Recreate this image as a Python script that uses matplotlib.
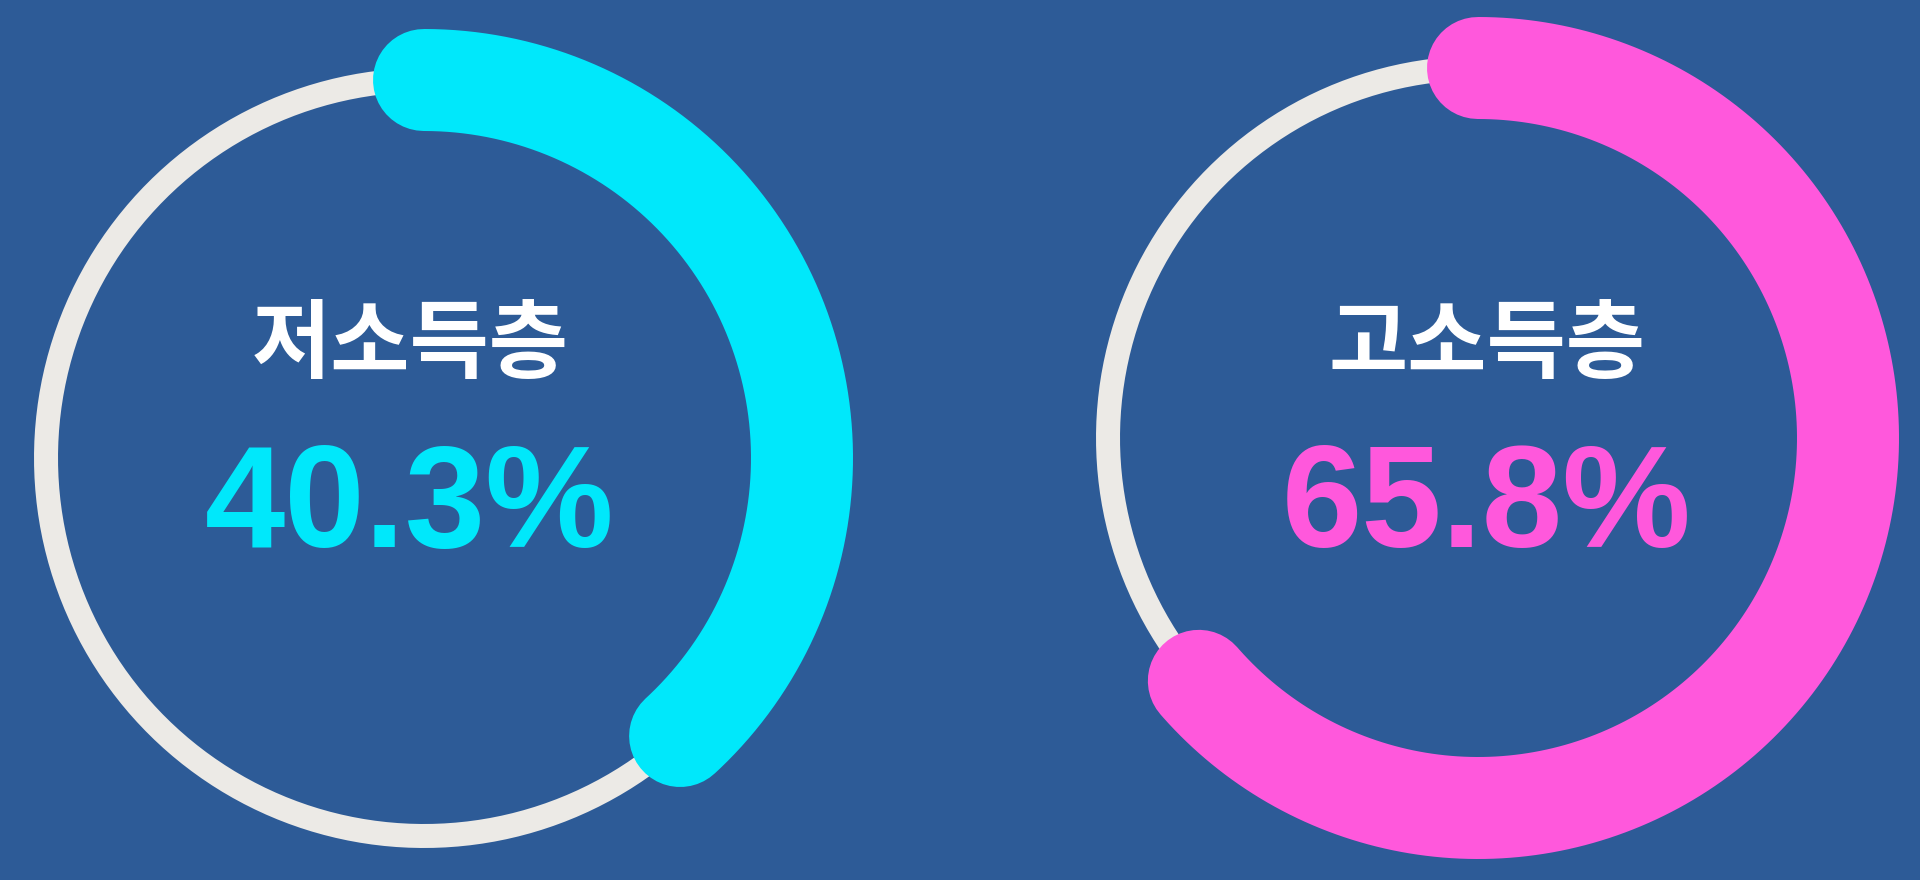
import numpy as np
import matplotlib
matplotlib.use("Agg")
import matplotlib.pyplot as plt

# ---- data ----
labels = ["저소득층", "고소득층"]
values = [40.3, 65.8]
value_texts = ["40.3%", "65.8%"]
arc_colors = ["#00E8FB", "#FF58DC"]

# ---- layout / style ----
BG = "#2D5B97"
RING = "#ECEAE6"
centers = [(424, 458), (1478, 438)]
radii = [378, 370]
text_x = [410, 1487]
DPI = 100
px2pt = 72.0 / DPI
ARC_W = 102  # px
RING_W = 24  # px
CJK = ["Noto Sans CJK KR", "DejaVu Sans"]
NUM = ["Liberation Sans", "DejaVu Sans"]

fig = plt.figure(figsize=(19.2, 8.8), dpi=DPI, facecolor=BG)
ax = fig.add_axes([0, 0, 1, 1])
ax.set_facecolor(BG)
ax.set_xlim(0, 1920)
ax.set_ylim(880, 0)
ax.set_aspect("equal")
ax.axis("off")

for i, (lab, val, vt, col) in enumerate(zip(labels, values, value_texts, arc_colors)):
    cx, cy = centers[i]
    r = radii[i]
    # background thin ring
    t = np.linspace(0, 2 * np.pi, 400)
    ax.plot(cx + r * np.sin(t), cy - r * np.cos(t), color=RING,
            lw=RING_W * px2pt, solid_capstyle="butt", zorder=1)
    # value arc, clockwise from 12 o'clock; round end cap tip lands at value
    cap = (ARC_W / 2.0) / r
    th = np.linspace(0, val / 100.0 * 2 * np.pi - cap, 400)
    ax.plot(cx + r * np.sin(th), cy - r * np.cos(th), color=col,
            lw=ARC_W * px2pt, solid_capstyle="round", zorder=2)
    # labels
    ax.text(text_x[i], 371, lab, ha="center", va="baseline", color="white",
            fontsize=62, family=CJK, fontweight="bold", zorder=3)
    ax.text(text_x[i], 547, vt, ha="center", va="baseline", color=col,
            fontsize=104, family=NUM, fontweight="bold", zorder=3)

fig.savefig("out.png", dpi=DPI, facecolor=BG)
